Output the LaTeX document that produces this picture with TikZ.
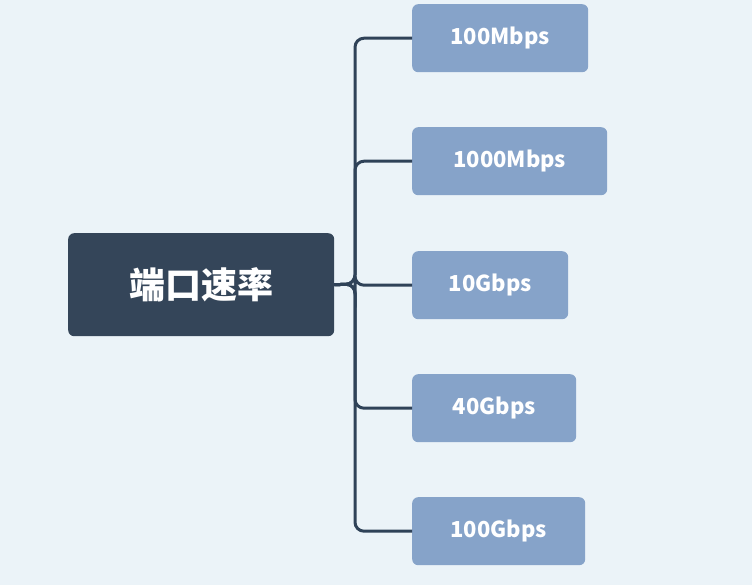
\documentclass[tikz,border=0pt]{standalone}
\usepackage{fontspec}
\newfontfamily\cjk{Noto Sans CJK SC}
\usetikzlibrary{positioning}
\definecolor{bgcol}{HTML}{EBF3F8}
\definecolor{rootcol}{HTML}{344559}
\definecolor{leafcol}{HTML}{86A3C9}
\definecolor{linecol}{HTML}{2F4258}
\tikzset{
  rootbox/.style={fill=rootcol, rounded corners=6pt, minimum width=266pt, minimum height=103pt,
    text=white, font=\cjk\bfseries\fontsize{36}{40}\selectfont, anchor=north west},
  leafbox/.style={fill=leafcol, rounded corners=6pt, minimum height=68pt,
    text=white, font=\cjk\bfseries\fontsize{22}{26}\selectfont, anchor=north west},
  link/.style={draw=linecol, line width=3pt, rounded corners=9pt}
}
\begin{document}
\begin{tikzpicture}[x=1pt,y=-1pt]
\fill[bgcol] (0,0) rectangle (752,585);
\useasboundingbox (0,0) rectangle (752,585);

\node[rootbox] (root) at (68,233) {端口速率};

\node[leafbox, minimum width=176pt] (l1) at (412,4) {100Mbps};
\node[leafbox, minimum width=195pt] (l2) at (412,127) {1000Mbps};
\node[leafbox, minimum width=156pt] (l3) at (412,251) {10Gbps};
\node[leafbox, minimum width=164pt] (l4) at (412,374) {40Gbps};
\node[leafbox, minimum width=173pt] (l5) at (412,497) {100Gbps};

\coordinate (trunk) at (355,284);
\foreach \n in {l1,l2,l3,l4,l5}
  \draw[link] (root.east) -- (trunk) |- (\n.west);
\end{tikzpicture}
\end{document}
